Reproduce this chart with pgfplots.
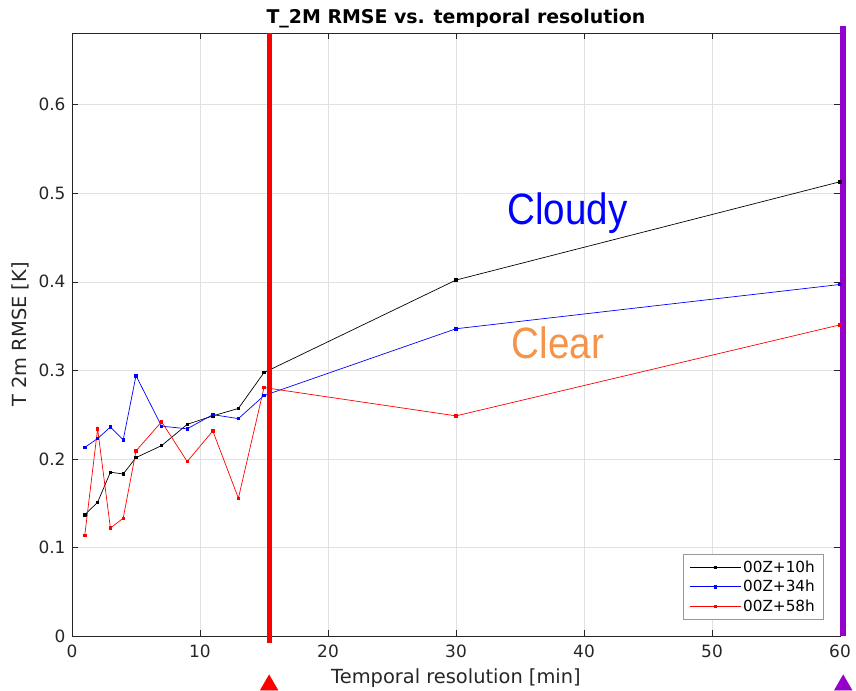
\documentclass[border=0pt]{standalone}
\usepackage{pgfplots}
\pgfplotsset{compat=1.18}
\usepackage{fontspec}
\setmainfont{DejaVu Sans}
\newfontfamily\arialf{Liberation Sans}
\usepackage{graphicx}
\definecolor{axgray}{RGB}{38,38,38}
\definecolor{clearor}{RGB}{245,147,72}
\definecolor{vpurple}{RGB}{150,0,205}
\definecolor{gridc}{RGB}{225,225,225}
\begin{document}
\begin{tikzpicture}
\begin{axis}[
  scale only axis, width=768bp, height=603bp,
  xmin=0, xmax=60, ymin=0, ymax=0.681,
  xtick={0,10,20,30,40,50,60},
  ytick={0,0.1,0.2,0.3,0.4,0.5,0.6},
  yticklabels={0,0.1,0.2,0.3,0.4,0.5,0.6},
  grid=major, grid style={gridc, line width=0.6pt},
  tick align=inside, major tick length=6bp,
  axis line style={axgray, line width=0.6pt}, tick style={axgray, line width=0.6pt},
  ticklabel style={font=\fontsize{17}{20}\selectfont, text=axgray},
  yticklabel style={xshift=-3bp},
  xticklabel style={yshift=-5bp},
  /pgf/number format/assume math mode=true,
  title={T\_2M RMSE vs. temporal resolution},
  title style={font=\bfseries\fontsize{19}{23}\selectfont, yshift=-4bp},
  xlabel={Temporal resolution [min]},
  ylabel={T 2m RMSE [K]},
  label style={font=\fontsize{19.5}{23}\selectfont, text=axgray},
  xlabel style={yshift=-5bp},
  ylabel style={yshift=3bp},
  clip=false,
  legend cell align=left,
  legend style={at={(rel axis cs:0.978,0.027)}, anchor=south east,
    font=\fontsize{15.3}{18}\selectfont, draw=gray!80, line width=0.6pt,
    row sep=2.5bp, inner xsep=6bp, inner ysep=4.5bp},
  legend image code/.code={\draw[mark repeat=2,mark phase=2] plot coordinates {(0bp,0bp) (25.5bp,0bp) (51bp,0bp)};},
  every axis plot/.append style={line width=0.7pt, mark=square*, mark size=1.2pt},
]
\addplot[black, mark options={fill=black}] coordinates {
(1,0.137) (2,0.151) (3,0.185) (4,0.183) (5,0.2015) (7,0.215) (9,0.239) (11,0.2486) (13,0.257) (15,0.2975) (30,0.402) (60,0.513)};
\addlegendentry{00Z+10h}
\addplot[blue, mark options={fill=blue}] coordinates {
(1,0.213) (2,0.223) (3,0.236) (4,0.2215) (5,0.294) (7,0.237) (9,0.234) (11,0.250) (13,0.2455) (15,0.2715) (30,0.347) (60,0.397)};
\addlegendentry{00Z+34h}
\addplot[red, mark options={fill=red}] coordinates {
(1,0.114) (2,0.234) (3,0.122) (4,0.133) (5,0.209) (7,0.242) (9,0.197) (11,0.2316) (13,0.1556) (15,0.2806) (30,0.2486) (60,0.3514)};
\addlegendentry{00Z+58h}
\addplot[red, line width=5bp, no marks, forget plot] coordinates {(15.4,0.681) (15.4,-0.008)};
\addplot[vpurple, line width=6bp, no marks, forget plot] coordinates {(60.25,0.689) (60.25,0)};
\addplot[only marks, mark=triangle*, mark size=10bp, red, mark options={fill=red, draw=red}, forget plot] coordinates {(15.4,-0.0555)};
\addplot[only marks, mark=triangle*, mark size=10bp, vpurple, mark options={fill=vpurple, draw=vpurple}, forget plot] coordinates {(60.25,-0.0555)};
\node[text=blue, font=\arialf\fontsize{44}{48}\selectfont] at (axis cs:38.7,0.478) {\scalebox{0.88}[1]{Cloudy}};
\node[text=clearor, font=\arialf\fontsize{44}{48}\selectfont] at (axis cs:37.97,0.331) {\scalebox{0.88}[1]{Clear}};
\end{axis}
\pgfresetboundingbox
\useasboundingbox ([xshift=-72bp,yshift=-54bp]current axis.south west) rectangle ([xshift=16bp,yshift=33bp]current axis.north east);
\end{tikzpicture}
\end{document}
